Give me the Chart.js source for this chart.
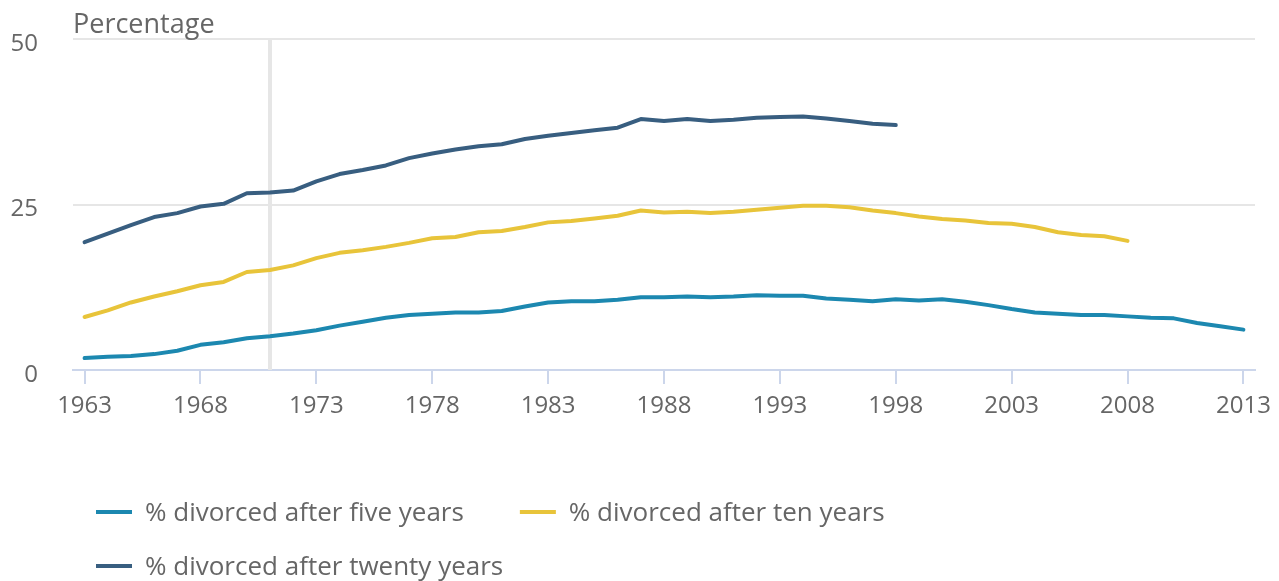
<!DOCTYPE html>
<html>
<head>
<meta charset="utf-8">
<script src="https://cdn.jsdelivr.net/npm/chart.js@4.4.1/dist/chart.umd.min.js"></script>
<style>
  html, body { margin: 0; padding: 0; background: #ffffff; }
  #wrap { width: 1279px; height: 581px; }
</style>
</head>
<body>
<div id="wrap"><canvas id="divorceChart"></canvas></div>
<script>
// data
const years = [
  1963, 1964, 1965, 1966, 1967, 1968, 1969, 1970, 1971, 1972,
  1973, 1974, 1975, 1976, 1977, 1978, 1979, 1980, 1981, 1982,
  1983, 1984, 1985, 1986, 1987, 1988, 1989, 1990, 1991, 1992,
  1993, 1994, 1995, 1996, 1997, 1998, 1999, 2000, 2001, 2002,
  2003, 2004, 2005, 2006, 2007, 2008, 2009, 2010, 2011, 2012,
  2013
];
const fiveYears = [
  1.8, 2.0, 2.1, 2.4, 2.9, 3.8, 4.2, 4.8, 5.1, 5.5,
  6.0, 6.7, 7.3, 7.9, 8.3, 8.5, 8.7, 8.7, 8.9, 9.6,
  10.2, 10.4, 10.4, 10.6, 11.0, 11.0, 11.1, 11.0, 11.1, 11.3,
  11.2, 11.2, 10.8, 10.6, 10.4, 10.7, 10.5, 10.7, 10.3, 9.8,
  9.2, 8.7, 8.5, 8.3, 8.3, 8.1, 7.9, 7.8, 7.1, 6.6,
  6.1
];
const tenYears = [
  8.0, 9.0, 10.2, 11.1, 11.9, 12.8, 13.3, 14.8, 15.1, 15.8,
  16.9, 17.7, 18.1, 18.6, 19.2, 19.9, 20.1, 20.8, 21.0, 21.6,
  22.3, 22.5, 22.9, 23.3, 24.1, 23.8, 23.9, 23.7, 23.9, 24.2,
  24.5, 24.8, 24.8, 24.6, 24.1, 23.7, 23.2, 22.8, 22.6, 22.2,
  22.1, 21.6, 20.8, 20.4, 20.2, 19.5
];
const twentyYears = [
  19.3, 20.6, 21.9, 23.1, 23.7, 24.7, 25.1, 26.7, 26.8, 27.1,
  28.5, 29.6, 30.2, 30.9, 32.0, 32.7, 33.3, 33.8, 34.1, 34.9,
  35.4, 35.8, 36.2, 36.6, 37.9, 37.6, 37.9, 37.6, 37.8, 38.1,
  38.2, 38.3, 38.0, 37.6, 37.2, 37.0
];
const seriesNames = [
  '% divorced after five years',
  '% divorced after ten years',
  '% divorced after twenty years'
];
const xTicks = [1963, 1968, 1973, 1978, 1983, 1988, 1993, 1998, 2003, 2008, 2013];
const yTicks = [0, 25, 50];
const yTitle = 'Percentage';
const crosshairYear = 1971;

const colors = {
  text: '#666666',
  grid: '#e6e6e6',
  axis: '#ccd6eb',
  crosshair: '#e6e6e6',
  series: ['#1c88b0', '#e8c43a', '#385e80']
};
const FONT = '"Open Sans", "Noto Sans", sans-serif';

function toPoints(values) {
  return values.map((v, i) => ({ x: years[i], y: v }));
}

// y title, crosshair line and a wrapped legend drawn on the canvas
const extrasPlugin = {
  id: 'extras',
  beforeDatasetsDraw(chart) {
    const { ctx, chartArea, scales } = chart;
    const x = scales.x.getPixelForValue(crosshairYear);
    ctx.save();
    ctx.strokeStyle = colors.crosshair;
    ctx.lineWidth = 4;
    ctx.beginPath();
    ctx.moveTo(x, chartArea.top);
    ctx.lineTo(x, chartArea.bottom);
    ctx.stroke();
    ctx.restore();
  },
  afterDraw(chart) {
    const { ctx, chartArea } = chart;
    ctx.save();
    ctx.fillStyle = colors.text;
    ctx.font = '27px ' + FONT;
    ctx.textAlign = 'left';
    ctx.textBaseline = 'alphabetic';
    ctx.fillText(yTitle, chartArea.left, 33);

    // legend
    ctx.font = '26px ' + FONT;
    const startX = 96, rowY = [512, 566], maxRight = 1000;
    let x = startX, row = 0;
    chart.data.datasets.forEach(ds => {
      const w = 36 + 13 + ctx.measureText(ds.label).width;
      if (x > startX && x + w > maxRight) { row++; x = startX; }
      const y = rowY[row];
      ctx.strokeStyle = ds.borderColor;
      ctx.lineWidth = 4;
      ctx.beginPath();
      ctx.moveTo(x, y);
      ctx.lineTo(x + 36, y);
      ctx.stroke();
      ctx.fillStyle = colors.text;
      ctx.fillText(ds.label, x + 49, y + 9);
      x += w + 56;
    });
    ctx.restore();
  }
};

const ctx = document.getElementById('divorceChart').getContext('2d');
new Chart(ctx, {
  type: 'line',
  data: {
    datasets: [fiveYears, tenYears, twentyYears].map((vals, i) => ({
      label: seriesNames[i],
      data: toPoints(vals),
      borderColor: colors.series[i],
      backgroundColor: colors.series[i],
      borderWidth: 4,
      pointRadius: 0,
      tension: 0,
      fill: false,
      borderJoinStyle: 'round',
      borderCapStyle: 'round'
    }))
  },
  options: {
    responsive: true,
    maintainAspectRatio: false,
    animation: false,
    layout: { padding: { top: 39, right: 24, left: 0, bottom: 0 } },
    plugins: {
      legend: { display: false },
      tooltip: { enabled: false }
    },
    scales: {
      x: {
        type: 'linear',
        min: 1962.5,
        max: 2013.5,
        afterBuildTicks: scale => { scale.ticks = xTicks.map(v => ({ value: v })); },
        afterFit: scale => {
          scale.height = 211;
          scale.paddingLeft = 0;
          scale.paddingRight = 0;
        },
        grid: { drawOnChartArea: false, drawTicks: true, tickLength: 14, color: colors.axis, lineWidth: 2 },
        border: { display: true, color: colors.axis, width: 2 },
        ticks: {
          color: colors.text,
          font: { family: FONT, size: 24 },
          padding: 8,
          maxRotation: 0,
          autoSkip: false,
          callback: v => String(v)
        }
      },
      y: {
        min: 0,
        max: 50,
        afterBuildTicks: scale => { scale.ticks = yTicks.map(v => ({ value: v })); },
        afterFit: scale => {
          scale.width = 73;
          scale.paddingTop = 0;
          scale.paddingBottom = 0;
        },
        grid: { color: colors.grid, lineWidth: 2, drawTicks: false },
        border: { display: false },
        ticks: {
          color: colors.text,
          font: { family: FONT, size: 24 },
          padding: 35,
          labelOffset: 5
        }
      }
    }
  },
  plugins: [extrasPlugin]
});
</script>
</body>
</html>
